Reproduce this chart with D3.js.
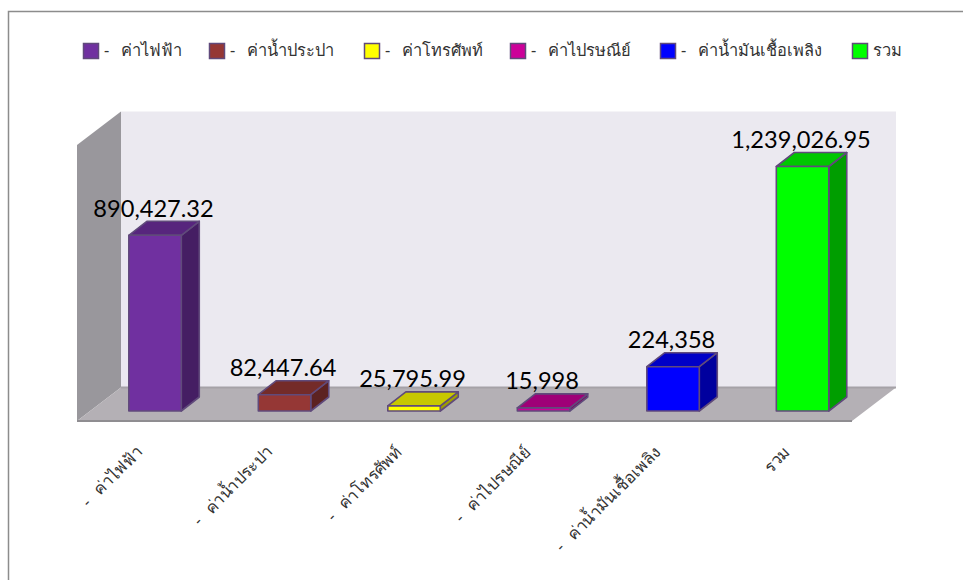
<!DOCTYPE html>
<html lang="th">

<head>
    <meta charset="UTF-8">
    <title>ค่าสาธารณูปโภค</title>
    <script src="https://d3js.org/d3.v7.min.js"></script>
    <style>
        body { margin: 0; background: #fff; }
        svg { display: block; }
        .cat text, .legend text { font-family: "Noto Sans", "DejaVu Sans", sans-serif; font-size: 16.4px; fill: #333; white-space: pre; word-spacing: 1.5px; }
        .value { font-family: Lato, "Open Sans", sans-serif; font-size: 23.6px; fill: #000; text-anchor: middle; }
    </style>
</head>

<body>
    <div id="chart"></div>

    <script>
        const width = 963;
        const height = 580;

        const categories = ["-  ค่าไฟฟ้า", "-  ค่าน้ำประปา", "-  ค่าโทรศัพท์", "-  ค่าไปรษณีย์", "-  ค่าน้ำมันเชื้อเพลิง", "รวม"];
        const values = [890427.32, 82447.64, 25795.99, 15998, 224358, 1239026.95];
        const valueLabels = ["890,427.32", "82,447.64", "25,795.99", "15,998", "224,358", "1,239,026.95"];
        const colors = ["#7030a0", "#953735", "#ffff00", "#cc0099", "#0000ff", "#00ff00"];

        // legend swatch left edges, the original spacing is not regular
        const legendX = [83, 209, 364, 510, 660, 852];

        const svg = d3.select("#chart")
            .append("svg")
            .attr("width", width)
            .attr("height", height);

        // outer border, open on the right and bottom
        svg.append("path")
            .attr("d", "M8.5,580V11.5H963")
            .attr("fill", "none")
            .attr("stroke", "#8c8c8c")
            .attr("stroke-width", 1.5);

        const x = d3.scaleBand()
            .domain(categories)
            .range([90.3, 867.3])
            .paddingInner(0.595)
            .paddingOuter(0.2975);

        const y = d3.scaleLinear()
            .domain([0, 1239026.95])
            .range([411, 166.5]);

        // box frame
        const left = 77, right = 852, floorY = 421, wallTop = 145;
        const frameDx = 44, frameDy = -33.5;

        const frame = svg.append("g");
        frame.append("rect")
            .attr("x", left + frameDx)
            .attr("y", wallTop + frameDy)
            .attr("width", right - left)
            .attr("height", floorY - wallTop)
            .attr("fill", "#ebe9f0");
        frame.append("path")
            .attr("d", `M${left},${wallTop}L${left + frameDx},${wallTop + frameDy}V${floorY + frameDy}L${left},${floorY}Z`)
            .attr("fill", "#99979c");
        frame.append("path")
            .attr("d", `M${left},${floorY}L${left + frameDx},${floorY + frameDy}H${right + frameDx}L${right},${floorY}Z`)
            .attr("fill", "#b4b0b5");
        frame.append("path")
            .attr("d", `M${left + frameDx},${floorY + frameDy}H${right + frameDx}`)
            .attr("stroke", "#a5a2a7")
            .attr("stroke-width", 2);
        frame.append("path")
            .attr("d", `M${left},${floorY}H${right}`)
            .attr("stroke", "#8f8d91")
            .attr("stroke-width", 2);

        // 3d bars
        const barDx = 18, barDy = -14;
        const bars = svg.append("g")
            .selectAll("g")
            .data(categories)
            .enter()
            .append("g")
            .attr("stroke", "#604a7b")
            .attr("stroke-width", 1.6)
            .attr("stroke-linejoin", "round");

        const barX = d => x(d);
        const barTop = (d, i) => y(values[i]);

        bars.append("path")
            .attr("fill", (d, i) => shade(colors[i], 0.62))
            .attr("d", (d, i) => {
                const r = barX(d) + x.bandwidth();
                return `M${r},${y(0)}V${barTop(d, i)}l${barDx},${barDy}V${y(0) + barDy}Z`;
            });

        bars.append("path")
            .attr("fill", (d, i) => shade(colors[i], 0.78))
            .attr("d", (d, i) => `M${barX(d)},${barTop(d, i)}l${barDx},${barDy}h${x.bandwidth()}l${-barDx},${-barDy}Z`);

        bars.append("rect")
            .attr("x", barX)
            .attr("y", barTop)
            .attr("width", x.bandwidth())
            .attr("height", (d, i) => y(0) - barTop(d, i))
            .attr("fill", (d, i) => colors[i]);

        function shade(c, k) {
            const col = d3.rgb(c);
            return d3.rgb(col.r * k, col.g * k, col.b * k).formatHex();
        }

        // value labels
        svg.append("g")
            .selectAll("text")
            .data(valueLabels)
            .enter()
            .append("text")
            .attr("class", "value")
            .attr("x", (d, i) => x(categories[i]) + x.bandwidth() / 2 - 1.5)
            .attr("y", (d, i) => y(values[i]) - 18.5)
            .text(d => d);

        // category axis, line and ticks hidden as the frame already draws them
        const axis = svg.append("g")
            .attr("class", "cat")
            .attr("transform", "translate(0,421)")
            .call(d3.axisBottom(x).tickSize(0));
        axis.select(".domain").remove();
        axis.selectAll("text")
            .attr("text-anchor", "end")
            .attr("dy", 0)
            .attr("y", 0)
            .attr("transform", "translate(-11.5,32) rotate(-45)");

        // legend
        const legend = svg.append("g")
            .attr("class", "legend")
            .selectAll("g")
            .data(categories)
            .enter()
            .append("g")
            .attr("transform", (d, i) => `translate(${legendX[i]},43)`);

        legend.append("rect")
            .attr("x", 0.5)
            .attr("y", 0.5)
            .attr("width", 15)
            .attr("height", 15)
            .attr("fill", (d, i) => colors[i])
            .attr("stroke", "#604a7b")
            .attr("stroke-width", 1.5);

        legend.append("text")
            .attr("x", 21)
            .attr("y", 13)
            .text(d => d);
    </script>
</body>

</html>
